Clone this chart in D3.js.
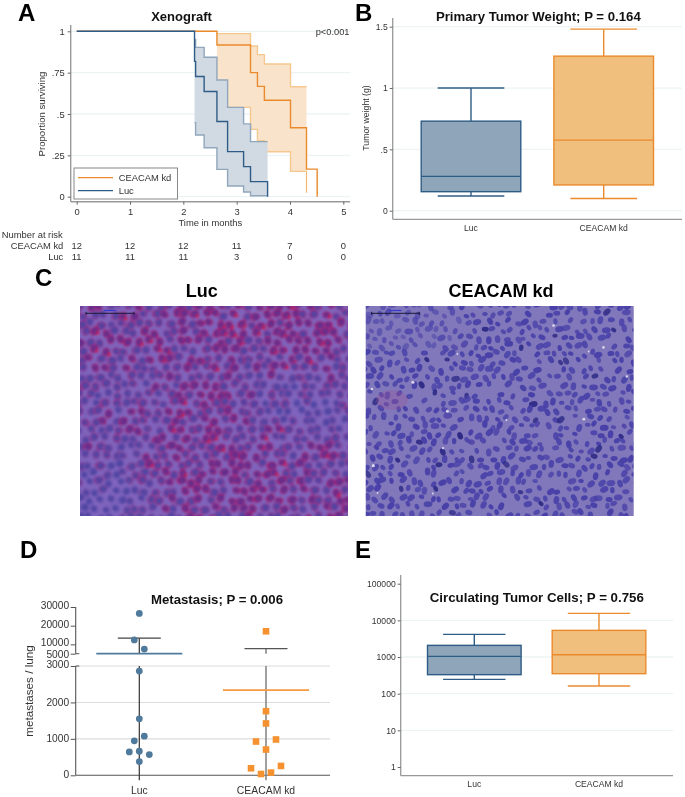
<!DOCTYPE html>
<html><head><meta charset="utf-8">
<script src="https://cdn.jsdelivr.net/npm/d3@7"></script>
<style>html,body{margin:0;padding:0;background:#fff}svg{display:block;filter:blur(.3px)}text{font-family:"Liberation Sans",Arial,sans-serif}</style>
</head><body><svg id="c" width="685" height="797"></svg>
<script>
// ---- Data: panel A (Kaplan-Meier)
const lucTimes=[0,2.21,2.23,2.39,2.63,2.83,3.13,3.26,3.58];
const lucSurv=[1,.818,.727,.636,.4545,.2727,.1818,.0909,0];
const lucBandTimes=[2.21,2.23,2.39,2.63,2.83,3.13,3.26,3.58];
const lucUpper=[.95,.903,.843,.706,.54,.44,.333,.333];
const lucLower=[.448,.373,.296,.165,.065,.028,.006,.006];
const ceaTimes=[0,2.63,3.26,3.39,3.52,4.01,4.31,4.51];
const ceaSurv=[1,.917,.75,.667,.583,.417,.167,0];
const ceaBandTimes=[2.63,3.26,3.39,3.52,4.01,4.31];
const ceaUpper=[.986,.911,.859,.802,.665,.665];
const ceaLower=[.54,.407,.339,.272,.153,.153];
const ceaLowerTail=[.153,.024];
const kmXTicks=[0,1,2,3,4,5];
const kmYTicks=[0,.25,.5,.75,1];
const kmYLabels=["0",".25",".5",".75","1"];
const riskCea=[12,12,12,11,7,0];
const riskLuc=[11,11,11,3,0,0];
// ---- Data: panel B (box plots)
const groups=["Luc","CEACAM kd"];
const weightLuc=[.12,.155,.28,.73,1.0];
const weightCea=[.10,.21,.575,1.26,1.48];
const weightTicks=[0,.5,1,1.5];
const weightLabels=["0",".5","1","1.5"];
// ---- Data: panel D (metastases)
const metLuc=[26550,12400,7500,2860,1550,1073,945,660,642,570,377];
const metLucSlot=[0,-1,1,0,0,1,-1,0,-2,2,0];
const metCea=[17000,1760,1423,983,927,707,257,193,74,36];
const metCeaSlot=[0,0,0,2,-2,0,3,-3,1,-1];
const metMean=[5000,2340];
const metErrTop=[13300,7700];
const metUpperTicks=[5000,10000,20000,30000];
const metLowerTicks=[0,1000,2000,3000];
// ---- Data: panel E (log box plots)
const ctcLuc=[246,330,1042,2080,4150];
const ctcCea=[162,351,1158,5335,15500];
const ctcTicks=[1,10,100,1000,10000,100000];

const BLUE="#2f5c86",ORANGE="#ea8a2c",BFILL="#8ea5ba",OFILL="#f0bf7e",AXIS="#999",GRID="#edf3f4",TXT="#333";
const svg=d3.select("#c");

function label(t,x,y,o={}){
  const s=svg.append("text").attr("x",x).attr("y",y).text(t)
    .attr("font-size",o.size||10).attr("fill",o.fill||TXT)
    .attr("text-anchor",o.anchor||"middle").attr("font-weight",o.bold?"bold":null);
  if(o.rot!=null)s.attr("transform",`rotate(${o.rot} ${x} ${y})`);
  return s;
}
function styleAxis(g,o={}){
  g.selectAll("path.domain").attr("stroke",o.axis||AXIS).attr("stroke-width",1.3);
  g.selectAll(".tick line").attr("stroke",o.tick||"#666").attr("stroke-width",1);
  g.selectAll(".tick text").attr("fill",TXT).attr("font-size",o.size||9).attr("font-family",'"Liberation Sans",Arial,sans-serif');
}

// Panel letters
[["A",18,21],["B",355,21],["C",35,286],["D",20,558],["E",355,558]].forEach(d=>
  label(d[0],d[1],d[2],{size:24,bold:true,anchor:"start",fill:"#000"}));

// ================= Panel A
(function(){
  const x=d3.scaleLinear().domain([0,5]).range([76.7,343.3]);
  const y=d3.scaleLinear().domain([0,1]).range([196.7,31.3]);
  kmYTicks.forEach(v=>svg.append("line").attr("x1",70.7).attr("x2",350).attr("y1",y(v)).attr("y2",y(v)).attr("stroke",GRID).attr("stroke-width",1.3));
  const band=(ts,up,lo,fill,edge)=>{
    const idx=d3.range(ts.length);
    svg.append("path").attr("d",d3.area().curve(d3.curveStepAfter).x(i=>x(ts[i])).y0(i=>y(lo[i])).y1(i=>y(up[i]))(idx)).attr("fill",fill);
    [up,lo].forEach(a=>svg.append("path").attr("d",d3.line().curve(d3.curveStepAfter).x(i=>x(ts[i])).y(i=>y(a[i]))(idx)).attr("fill","none").attr("stroke",edge).attr("stroke-width",1.4));
  };
  const km=(ts,s,col)=>svg.append("path").attr("d",d3.line().curve(d3.curveStepAfter).x((d,i)=>x(ts[i])).y(d=>y(d))(s)).attr("fill","none").attr("stroke",col).attr("stroke-width",1.4);
  band(ceaBandTimes,ceaUpper,ceaLower,"#f9e4cb","#f5c88f");
  svg.append("line").attr("x1",x(4.31)).attr("x2",x(4.31)).attr("y1",y(ceaLowerTail[0])).attr("y2",y(ceaLowerTail[1])).attr("stroke","#f3b877").attr("stroke-width",1.2);
  km(ceaTimes,ceaSurv,ORANGE);
  band(lucBandTimes,lucUpper,lucLower,"#d1dae3","#8fa6bc");
  km(lucTimes,lucSurv,BLUE);

  svg.append("line").attr("x1",70.7).attr("x2",70.7).attr("y1",25).attr("y2",201.7).attr("stroke",AXIS).attr("stroke-width",1.4);
  svg.append("line").attr("x1",70.7).attr("x2",350).attr("y1",201.7).attr("y2",201.7).attr("stroke",AXIS).attr("stroke-width",1.4);
  const ax=svg.append("g").attr("transform","translate(0,201.7)").call(d3.axisBottom(x).tickValues(kmXTicks).tickSize(3).tickPadding(3.5).tickFormat(d3.format("d")));
  styleAxis(ax,{size:9.4}); ax.select("path.domain").remove();
  const ay=svg.append("g").attr("transform","translate(70.7,0)").call(d3.axisLeft(y).tickValues(kmYTicks).tickSize(3).tickPadding(3).tickFormat((d,i)=>kmYLabels[i]));
  styleAxis(ay,{size:9.4}); ay.select("path.domain").remove();

  label("Xenograft",181.5,20.7,{size:13,bold:true,fill:"#111"});
  label("p<0.001",349.5,34.7,{size:9.3,anchor:"end"});
  label("Time in months",210.3,225.8,{size:9.4});
  label("Proportion surviving",44.5,114,{size:9.6,rot:-90});
  // legend
  svg.append("rect").attr("x",74).attr("y",168).attr("width",103.5).attr("height",31).attr("fill","#fff").attr("stroke","#888").attr("stroke-width",1);
  [[groups[1],ORANGE,177.7],[groups[0],BLUE,190.7]].forEach(d=>{
    svg.append("line").attr("x1",78).attr("x2",113).attr("y1",d[2]).attr("y2",d[2]).attr("stroke",d[1]).attr("stroke-width",1.3);
    label(d[0],118.7,d[2]+3.3,{size:9.4,anchor:"start"});
  });
  // risk table
  label("Number at risk",62.7,238.3,{size:9.4,anchor:"end"});
  label(groups[1],63.3,249,{size:9.4,anchor:"end"});
  label(groups[0],63.3,259.7,{size:9.4,anchor:"end"});
  kmXTicks.forEach((t,i)=>{
    label(riskCea[i],x(t),249.3,{size:9.4});
    label(riskLuc[i],x(t),260,{size:9.4});
  });
})();

// box plot shared
function box(xc,halfBox,halfCap,v,y,col,fill){
  const [lo,q1,med,q3,hi]=v;
  const sw=1.4;
  svg.append("line").attr("x1",xc).attr("x2",xc).attr("y1",y(hi)).attr("y2",y(q3)).attr("stroke",col).attr("stroke-width",sw);
  svg.append("line").attr("x1",xc).attr("x2",xc).attr("y1",y(q1)).attr("y2",y(lo)).attr("stroke",col).attr("stroke-width",sw);
  [hi,lo].forEach(c=>svg.append("line").attr("x1",xc-halfCap).attr("x2",xc+halfCap).attr("y1",y(c)).attr("y2",y(c)).attr("stroke",col).attr("stroke-width",sw));
  svg.append("rect").attr("x",xc-halfBox).attr("width",2*halfBox).attr("y",y(q3)).attr("height",y(q1)-y(q3)).attr("fill",fill).attr("stroke",col).attr("stroke-width",sw);
  svg.append("line").attr("x1",xc-halfBox).attr("x2",xc+halfBox).attr("y1",y(med)).attr("y2",y(med)).attr("stroke",col).attr("stroke-width",sw);
}

// ================= Panel B
(function(){
  const y=d3.scaleLinear().domain([0,1.5]).range([210.7,26.7]);
  const x=d3.scalePoint().domain(groups).range([471,603.7]);
  weightTicks.forEach(v=>svg.append("line").attr("x1",392.7).attr("x2",682).attr("y1",y(v)).attr("y2",y(v)).attr("stroke",GRID).attr("stroke-width",1.3));
  box(x(groups[0]),49.8,33.3,weightLuc,y,BLUE,BFILL);
  box(x(groups[1]),49.8,33.3,weightCea,y,ORANGE,OFILL);
  svg.append("line").attr("x1",392.7).attr("x2",392.7).attr("y1",18).attr("y2",219.3).attr("stroke",AXIS).attr("stroke-width",1.3);
  svg.append("line").attr("x1",392.7).attr("x2",682).attr("y1",219.3).attr("y2",219.3).attr("stroke",AXIS).attr("stroke-width",1.3);
  const ay=svg.append("g").attr("transform","translate(392.7,0)").call(d3.axisLeft(y).tickValues(weightTicks).tickSize(3).tickPadding(2).tickFormat((d,i)=>weightLabels[i]));
  styleAxis(ay,{size:8.6}); ay.select("path.domain").remove();
  groups.forEach(g=>label(g,x(g),230.7,{size:8.6}));
  label("Primary Tumor Weight; P = 0.164",538.3,21,{size:13.2,bold:true,fill:"#111"});
  label("Tumor weight (g)",369,118,{size:8.7,rot:-90});
})();

// ================= Panel C: micrographs (decorative texture, not data)
(function(){
  const frac=v=>v-Math.floor(v);
  const h=(i)=>frac(Math.sin(i*12.9898+1.7)*43758.5453);
  const defs=svg.append("defs");
  const soft=(id,s)=>defs.append("filter").attr("id",id).attr("x","-2%").attr("y","-2%").attr("width","104%").attr("height","104%").append("feGaussianBlur").attr("stdDeviation",s);
  soft("softL",.8); soft("softR",.6);
  const panel=(id,px,py,w,h2,blurId,drawer)=>{
    defs.append("clipPath").attr("id",id).append("rect").attr("x",px).attr("y",py).attr("width",w).attr("height",h2);
    const g=svg.append("g").attr("clip-path",`url(#${id})`).append("g").attr("filter",`url(#${blurId})`);
    drawer(g);
  };
  const W=268,H=210,Y0=306;
  const redBlobs=[[.6,.05,.3,.2,.25],[.9,.08,.15,.15,.25],[.5,.55,.1,.1,.35],[.4,.85,.15,.12,.3],[.72,.9,.1,.1,.2],[.1,.95,.13,.13,-.85],[.85,.42,.15,.12,-.4],[.15,.4,.15,.2,-.15],[.2,.1,.15,.15,.1]];
  const red=(u,v)=>.58+d3.sum(redBlobs,b=>b[4]*Math.exp(-((u-b[0])**2)/(2*b[2]*b[2])-((v-b[1])**2)/(2*b[3]*b[3])));
  panel("clipL",80,Y0,W,H,"softL",g=>{
    g.append("rect").attr("x",70).attr("y",Y0-10).attr("width",W+20).attr("height",H+20).attr("fill","#7f64bc");
    const sx=10,sy=8.8;let i=0;
    for(let r=-1;r*sy<H+10;r++)for(let c=-1;c*sx<W+10;c++){
      i++;
      const cx=80+c*sx+(r%2?sx/2:0)+(h(i)-.5)*5, cy=Y0+r*sy+(h(i+5000)-.5)*4.5;
      const k=h(i+9000);
      const t=Math.max(0,Math.min(1,red((cx-80)/W,(cy-Y0)/H)+(h(i+13000)-.5)*.8));
      g.append("ellipse").attr("cx",cx).attr("cy",cy).attr("rx",4.4+k*1.1).attr("ry",3.7+k*.7)
        .attr("transform",`rotate(${k*180} ${cx} ${cy})`)
        .attr("fill",d3.interpolateRgb("#6e5ab4","#9c2478")(t));
      g.append("circle").attr("cx",cx+(k-.5)*1.5).attr("cy",cy).attr("r",2.6+k*.8).attr("fill",t>.75?"#62308e":"#5044a2").attr("opacity",.9);
      if(t>.8&&h(i+17000)<.3)g.append("circle").attr("cx",cx+3).attr("cy",cy+2).attr("r",2.2).attr("fill","#bc2260").attr("opacity",.85);
    }
  });
  panel("clipR",365.7,Y0,W,H,"softR",g=>{
    g.append("rect").attr("x",356).attr("y",Y0-10).attr("width",W+20).attr("height",H+20).attr("fill","#8078bb");
    const sx=9.4,sy=8;let i=0;
    for(let r=-1;r*sy<H+10;r++)for(let c=-1;c*sx<W+10;c++){
      i++;
      if(h(i+20000)<.1)continue;
      const cx=365.7+c*sx+(r%2?sx/2:0)+(h(i+21000)-.5)*5.5, cy=Y0+r*sy+(h(i+22000)-.5)*5;
      const k=h(i+23000);
      const top=(cy-Y0)<H*.2&&(cx-365.7)<W*.35;
      g.append("ellipse").attr("cx",cx).attr("cy",cy).attr("rx",2.7+k*1.7).attr("ry",2+k*1)
        .attr("transform",`rotate(${k*360} ${cx} ${cy})`)
        .attr("fill",h(i+24000)<.05?"#2e2a86":"#4840a8").attr("opacity",top?.5+.3*h(i+25000):.75+.25*h(i+25000));
    }
    d3.range(14).forEach(j=>g.append("circle").attr("cx",365.7+h(j+30000)*W).attr("cy",Y0+h(j+31000)*H).attr("r",.9+h(j+32000)*.7).attr("fill","#d8d4ea"));
    g.append("ellipse").attr("cx",392).attr("cy",400).attr("rx",16).attr("ry",10).attr("fill","#a2508f").attr("opacity",.28);
  });
  // scale bars
  [[86,134],[371.7,419.3]].forEach(b=>{
    svg.append("line").attr("x1",b[0]).attr("x2",b[1]).attr("y1",313.3).attr("y2",313.3).attr("stroke","#1a1a3a").attr("stroke-width",1);
    [b[0],b[1]].forEach(t=>svg.append("line").attr("x1",t).attr("x2",t).attr("y1",311.8).attr("y2",315).attr("stroke","#1a1a3a"));
    svg.append("line").attr("x1",(b[0]+b[1])/2-6).attr("x2",(b[0]+b[1])/2+6).attr("y1",310.5).attr("y2",310.5).attr("stroke","#3a3ad0").attr("stroke-width",1.2);
  });
  label("Luc",201.7,297,{size:18,bold:true,fill:"#000"});
  label("CEACAM kd",501,297,{size:18,bold:true,fill:"#000"});
})();

// ================= Panel D
(function(){
  const AX=75.7;
  const yU=d3.scaleLinear().domain([5000,30000]).range([653.7,607]);
  const yL=d3.scaleLinear().domain([0,3000]).range([775.3,666]);
  const y=v=>v>=5000?yU(v):yL(v);
  const x=d3.scalePoint().domain(groups).range([139.3,266]);
  metLowerTicks.forEach(v=>svg.append("line").attr("x1",AX).attr("x2",330).attr("y1",yL(v)).attr("y2",yL(v)).attr("stroke",v===0?"#555":"#dcdcdc").attr("stroke-width",1.1));
  svg.append("line").attr("x1",AX).attr("x2",AX).attr("y1",yU(30000)).attr("y2",yU(5000)).attr("stroke","#555").attr("stroke-width",1.1);
  svg.append("line").attr("x1",AX).attr("x2",AX).attr("y1",yL(3000)).attr("y2",yL(0)).attr("stroke","#555").attr("stroke-width",1.1);
  const upDy={5000:"0.38em",10000:"0.12em",20000:"0.18em",30000:"0.15em"};
  const loDy={0:"0.19em",1000:"0.22em",2000:"0.26em",3000:"0.14em"};
  const au=svg.append("g").attr("transform",`translate(${AX},0)`).call(d3.axisLeft(yU).tickValues(metUpperTicks).tickSize(5).tickPadding(1.6).tickFormat(d3.format("d")));
  styleAxis(au,{size:10.2,tick:"#555"}); au.select("path.domain").remove();
  au.selectAll(".tick text").attr("dy",d=>upDy[d]);
  const al=svg.append("g").attr("transform",`translate(${AX},0)`).call(d3.axisLeft(yL).tickValues(metLowerTicks).tickSize(5).tickPadding(1.6).tickFormat(d3.format("d")));
  styleAxis(al,{size:10.2,tick:"#555"}); al.select("path.domain").remove();
  al.selectAll(".tick text").attr("dy",d=>loDy[d]);
  [yU(5000),yL(3000)].forEach(v=>svg.append("line").attr("x1",AX).attr("x2",AX+3.6).attr("y1",v).attr("y2",v).attr("stroke","#555"));
  // error bars: the vertical breaks between the two axis segments
  const bottom=yL(0)+5;
  groups.forEach((g,i)=>{
    const col=i?"#888":"#333",sw=i?1.6:1.2;
    svg.append("line").attr("x1",x(g)).attr("x2",x(g)).attr("y1",y(metErrTop[i])).attr("y2",yU(5000)).attr("stroke",col).attr("stroke-width",sw);
    svg.append("line").attr("x1",x(g)).attr("x2",x(g)).attr("y1",yL(3000)).attr("y2",bottom).attr("stroke",col).attr("stroke-width",sw);
    svg.append("line").attr("x1",x(g)-21.5).attr("x2",x(g)+21.5).attr("y1",y(metErrTop[i])).attr("y2",y(metErrTop[i])).attr("stroke",i?"#555":"#444").attr("stroke-width",1.2);
  });
  // means
  [["#4f7a9c",0],["#f59a3f",1]].forEach(d=>svg.append("line").attr("x1",x(groups[d[1]])-43).attr("x2",x(groups[d[1]])+43).attr("y1",y(metMean[d[1]])).attr("y2",y(metMean[d[1]])).attr("stroke",d[0]).attr("stroke-width",1.7));
  // points
  svg.selectAll(".ml").data(metLuc).enter().append("circle").attr("cx",(d,i)=>x(groups[0])+metLucSlot[i]*5).attr("cy",d=>y(d)).attr("r",3.4).attr("fill","#4f7a9c");
  svg.selectAll(".mc").data(metCea).enter().append("rect").attr("x",(d,i)=>x(groups[1])+metCeaSlot[i]*5-3.3).attr("y",d=>y(d)-3.3).attr("width",6.6).attr("height",6.6).attr("fill","#f5922f");
  groups.forEach(g=>label(g,x(g),794,{size:10.4}));
  label("Metastasis; P = 0.006",217,604,{size:13.2,bold:true,fill:"#111"});
  label("metastases / lung",33,691,{size:11.7,rot:-90});
})();

// ================= Panel E
(function(){
  const y=d3.scaleLog().domain([1,100000]).range([767,583.7]);
  const x=d3.scalePoint().domain(groups).range([474.3,599]);
  [10,100,1000,10000].forEach(v=>svg.append("line").attr("x1",400.7).attr("x2",673).attr("y1",y(v)).attr("y2",y(v)).attr("stroke",GRID).attr("stroke-width",1.3));
  box(x(groups[0]),46.8,31.2,ctcLuc,y,BLUE,BFILL);
  box(x(groups[1]),46.8,31.2,ctcCea,y,ORANGE,OFILL);
  svg.append("line").attr("x1",400.7).attr("x2",400.7).attr("y1",575).attr("y2",775.7).attr("stroke",AXIS).attr("stroke-width",1.3);
  svg.append("line").attr("x1",400.7).attr("x2",673).attr("y1",775.7).attr("y2",775.7).attr("stroke",AXIS).attr("stroke-width",1.3);
  const ay=svg.append("g").attr("transform","translate(400.7,0)").call(d3.axisLeft(y).tickValues(ctcTicks).tickSize(3).tickPadding(2).tickFormat(d3.format("d")));
  styleAxis(ay,{size:8.6}); ay.select("path.domain").remove();
  groups.forEach(g=>label(g,x(g),786.7,{size:8.6}));
  label("Circulating Tumor Cells; P = 0.756",536.8,601.7,{size:13.3,bold:true,fill:"#111"});
})();
</script></body></html>
